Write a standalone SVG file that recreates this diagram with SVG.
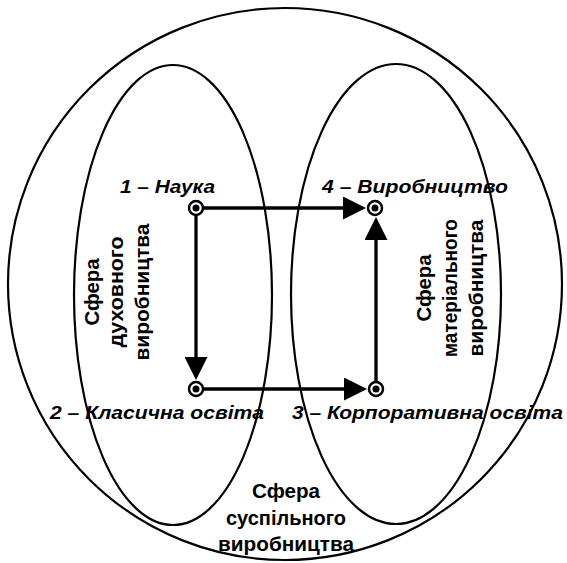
<svg xmlns="http://www.w3.org/2000/svg" width="567" height="563" viewBox="0 0 567 563">
<style>
.area{fill:none;stroke:#000;stroke-width:2.2}
.conn{fill:none;stroke:#000;stroke-width:3.3}
.ring{fill:#fff;stroke:#000;stroke-width:2.5}
.dot{fill:#000}
.lbl{font-family:"Liberation Sans",Arial,sans-serif;font-weight:bold;font-style:italic;font-size:18px;fill:#000}
.sph{font-family:"Liberation Sans",Arial,sans-serif;font-weight:bold;font-size:20.5px;fill:#000;text-anchor:middle}
</style>
<defs>
<marker id="arrow" viewBox="0 0 23 23" markerWidth="23" markerHeight="23" refX="0" refY="11.5" orient="auto" markerUnits="userSpaceOnUse">
<path d="M0,0 L23,11.5 L0,23 z" fill="#000"/>
</marker>
</defs>
<rect width="567" height="563" fill="#fff"/>
<g id="sphere-social">
<ellipse class="area" cx="285" cy="284" rx="277" ry="276"/>
<text class="sph" x="286" y="498" textLength="68" lengthAdjust="spacingAndGlyphs">Сфера</text>
<text class="sph" x="286" y="525" textLength="120" lengthAdjust="spacingAndGlyphs">суспільного</text>
<text class="sph" x="286" y="551" textLength="136" lengthAdjust="spacingAndGlyphs">виробництва</text>
</g>
<g id="sphere-spiritual">
<ellipse class="area" cx="173" cy="295" rx="99" ry="230"/>
<text class="sph" transform="translate(99,292) rotate(-90)" textLength="67" lengthAdjust="spacingAndGlyphs">Сфера</text>
<text class="sph" transform="translate(123,292) rotate(-90)" textLength="111" lengthAdjust="spacingAndGlyphs">духовного</text>
<text class="sph" transform="translate(149,292) rotate(-90)" textLength="137" lengthAdjust="spacingAndGlyphs">виробництва</text>
</g>
<g id="sphere-material">
<ellipse class="area" cx="396" cy="294" rx="105" ry="230"/>
<text class="sph" transform="translate(431,288) rotate(-90)" textLength="67" lengthAdjust="spacingAndGlyphs">Сфера</text>
<text class="sph" transform="translate(457,288) rotate(-90)" textLength="138" lengthAdjust="spacingAndGlyphs">матеріального</text>
<text class="sph" transform="translate(483,288) rotate(-90)" textLength="137" lengthAdjust="spacingAndGlyphs">виробництва</text>
</g>
<g id="connectors">
<path class="conn" d="M204,208 H343" marker-end="url(#arrow)"/>
<path class="conn" d="M196,216 V357" marker-end="url(#arrow)"/>
<path class="conn" d="M204,389 H344" marker-end="url(#arrow)"/>
<path class="conn" d="M376,381 V240" marker-end="url(#arrow)"/>
</g>
<g id="node-1">
<circle class="ring" cx="196" cy="208" r="7"/>
<circle class="dot" cx="196" cy="208" r="3.5"/>
<text class="lbl" x="120" y="193" textLength="95" lengthAdjust="spacingAndGlyphs">1 – Наука</text>
</g>
<g id="node-4">
<circle class="ring" cx="375" cy="208" r="7"/>
<circle class="dot" cx="375" cy="208" r="3.5"/>
<text class="lbl" x="322" y="193" textLength="186" lengthAdjust="spacingAndGlyphs">4 – Виробництво</text>
</g>
<g id="node-2">
<circle class="ring" cx="196" cy="389" r="7"/>
<circle class="dot" cx="196" cy="389" r="3.5"/>
<text class="lbl" x="50" y="419" textLength="214" lengthAdjust="spacingAndGlyphs">2 – Класична освіта</text>
</g>
<g id="node-3">
<circle class="ring" cx="376" cy="389" r="7"/>
<circle class="dot" cx="376" cy="389" r="3.5"/>
<text class="lbl" x="292" y="419" textLength="271" lengthAdjust="spacingAndGlyphs">3 – Корпоративна освіта</text>
</g>
</svg>
